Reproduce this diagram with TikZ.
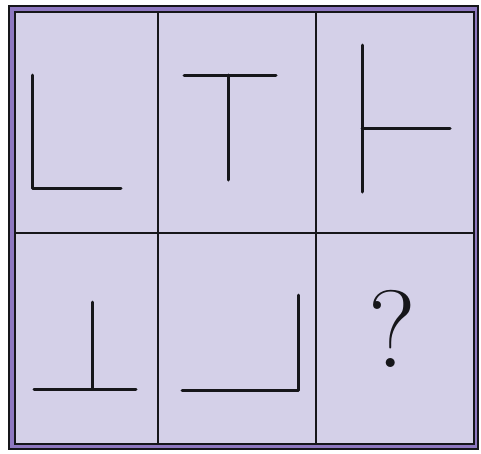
\documentclass[tikz,border=0pt]{standalone}
\usepackage{tikz}
\usetikzlibrary{positioning}
\definecolor{cellfill}{RGB}{212,208,232}
\definecolor{framepurple}{RGB}{142,120,192}
\definecolor{inkblack}{RGB}{22,22,26}

\begin{document}
\begin{tikzpicture}[x=1pt, y=-1pt,
  stroke/.style={line width=3pt, draw=inkblack, line cap=round, line join=round},
  gridline/.style={line width=1.6pt, draw=inkblack}]
\useasboundingbox (0,0) rectangle (481,453);

% Frame
\fill[framepurple] (9,6) rectangle (478,449);
\draw[gridline] (9,6) rectangle (478,449);
\fill[cellfill] (15,12) rectangle (474,444);
\draw[gridline] (15,12) rectangle (474,444);

% Grid
\draw[gridline] (158,12) -- (158,444);
\draw[gridline] (316,12) -- (316,444);
\draw[gridline] (15,233) -- (474,233);

% Top row
\draw[stroke] (32,75) -- (32,188) -- (121,188);
\draw[stroke] (184,75) -- (276,75);
\draw[stroke] (228,75) -- (228,180);
\draw[stroke] (362,45) -- (362,192);
\draw[stroke] (362,128) -- (450,128);

% Bottom row
\draw[stroke] (92,302) -- (92,389);
\draw[stroke] (34,389) -- (136,389);
\draw[stroke] (182,390) -- (298,390) -- (298,295);

% Missing cell
\node[font=\fontsize{110}{110}\selectfont, text=inkblack] (qmark) at (392,329) {?};
\end{tikzpicture}
\end{document}
